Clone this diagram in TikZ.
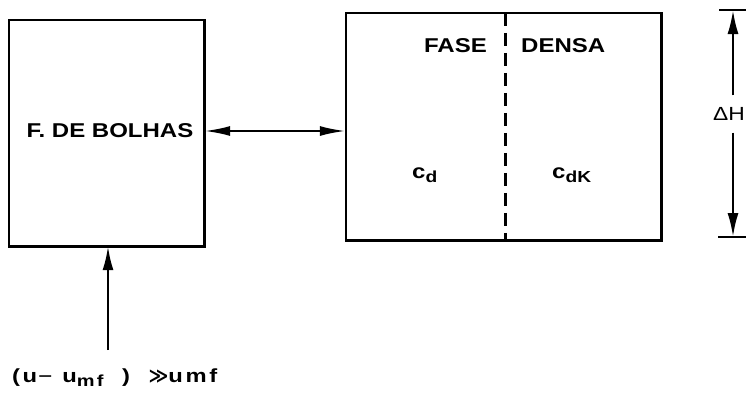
\documentclass[tikz,border=0pt]{standalone}
\usepackage{fontspec}
\setmainfont{Liberation Sans}
\newfontfamily\widefont[FakeStretch=1.2]{Liberation Sans}
\newfontfamily\gasfont[FakeStretch=1.25, LetterSpace=14]{Liberation Sans}
\newfontfamily\symfont{DejaVu Sans}
\usetikzlibrary{arrows.meta}
\newcommand{\lowsub}[1]{\raisebox{-4pt}{\fontsize{16}{16}\selectfont #1}}
\begin{document}
\begin{tikzpicture}[x=1pt,y=-1pt,
  box/.style={draw, line width=2.6pt},
  lbl/.style={font=\widefont\fontsize{20}{22}\selectfont\bfseries, inner sep=0pt},
  arr/.style={line width=2.4pt, -{Latex[length=24pt,width=11pt]}},
  darr/.style={line width=2.4pt, {Latex[length=26pt,width=10pt]}-{Latex[length=26pt,width=10pt]}}]
\useasboundingbox (0,0) rectangle (746,394);
% boxes
\node (bub) [inner sep=0pt, minimum width=195pt, minimum height=226pt] at (106.5,133) {};
\node (dense) [inner sep=0pt, minimum width=315pt, minimum height=227pt] at (503.5,126.5) {};
\draw[box] (bub.north west) rectangle (bub.south east);
\draw[box] (dense.north west) rectangle (dense.south east);
\draw[line width=2.6pt, dash pattern=on 13pt off 7pt] (dense.north) ++(2,0) coordinate (dt) -- (dt |- dense.south);
% labels
\node[lbl] (fb) at (110,131) {F. DE BOLHAS};
\node[lbl, anchor=base east] (fase) at (487,52) {FASE};
\node[lbl, anchor=base west] (densa) at (521,52) {DENSA};
\node[lbl, anchor=base west] (cd) at (412,178) {c\lowsub{d}};
\node[lbl, anchor=base west] (cdk) at (552,178) {c\lowsub{dK}};
% exchange arrow
\draw[darr] (bub.east |- 0,131) -- (dense.west |- 0,131);
% feed arrow
\coordinate (feed) at (108,350);
\draw[arr] (feed) -- (feed |- bub.south);
\node[anchor=base west, inner sep=0pt, font=\gasfont\fontsize{19}{22}\selectfont\bfseries] (gas) at (12,382)
  {(u{\symfont\mdseries −}\ u\raisebox{-4pt}{\fontsize{16}{16}\selectfont mf}\ \ )\ \ {\symfont ≫}umf};
% Delta H
\coordinate (ht) at (733,10);
\coordinate (hb) at (733,237);
\draw[line width=2.4pt] (719,10) -- (746,10);
\draw[line width=2.4pt] (718,237) -- (746,237);
\node[font=\widefont\fontsize{19}{20}\selectfont, inner sep=0pt] (dh) at (729,114) {ΔH};
\draw[arr] (dh.north -| ht) ++(0,-12) coordinate (u1) -- (ht);
\draw[arr] (dh.south -| hb) ++(0,12) coordinate (d1) -- (hb);
\end{tikzpicture}
\end{document}
